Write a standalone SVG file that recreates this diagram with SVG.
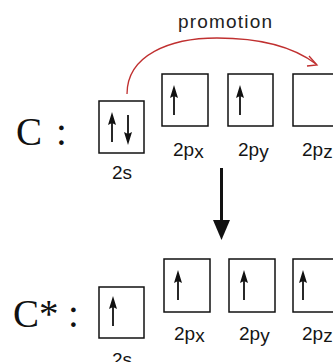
<svg xmlns="http://www.w3.org/2000/svg" xmlns:xlink="http://www.w3.org/1999/xlink" width="333" height="362" viewBox="0 0 333 362">
<style>
.box{fill:#fff;stroke:#111;stroke-width:1.5}
.lbl{font-family:"Liberation Sans","DejaVu Sans",sans-serif;font-size:19px;fill:#151515}
.big{font-family:"Liberation Serif","DejaVu Serif",serif;font-size:39px;fill:#111}
.spin{stroke:#111;stroke-width:1.8;fill:none}
</style>
<defs>
<g id="up"><line class="spin" x1="0" y1="8" x2="0" y2="30"/><path d="M0,0 L4,13 L0,11 L-4,13 Z" fill="#111"/></g>
<g id="down"><line class="spin" x1="0" y1="0" x2="0" y2="22"/><path d="M0,30 L4,17 L0,19 L-4,17 Z" fill="#111"/></g>
</defs>
<rect width="333" height="362" fill="#fff"/>

<text class="big" x="16" y="145">C<tspan x="56">:</tspan></text>
<text class="big" x="13" y="327">C*<tspan x="68">:</tspan></text>

<g id="C-2s">
<rect class="box" x="99" y="101" width="45" height="52"/>
<use xlink:href="#up" x="112" y="112"/>
<use xlink:href="#down" x="128" y="115"/>
<text class="lbl" x="122" y="179" text-anchor="middle">2s</text>
</g>
<g id="C-2px">
<rect class="box" x="162" y="74" width="46" height="52"/>
<use xlink:href="#up" x="174" y="85"/>
<text class="lbl" x="173" y="156">2p<tspan dy="2">x</tspan></text>
</g>
<g id="C-2py">
<rect class="box" x="228" y="74" width="45" height="52"/>
<use xlink:href="#up" x="240" y="85"/>
<text class="lbl" x="238" y="156">2p<tspan dy="2">y</tspan></text>
</g>
<g id="C-2pz">
<rect class="box" x="293" y="74" width="46" height="52"/>
<text class="lbl" x="302" y="156">2p<tspan dy="2">z</tspan></text>
</g>

<g id="Cs-2s">
<rect class="box" x="99" y="287" width="45" height="51"/>
<use xlink:href="#up" x="113" y="296"/>
<text class="lbl" x="122" y="366" text-anchor="middle">2s</text>
</g>
<g id="Cs-2px">
<rect class="box" x="164" y="259" width="46" height="53"/>
<use xlink:href="#up" x="178" y="270"/>
<text class="lbl" x="174" y="340">2p<tspan dy="2">x</tspan></text>
</g>
<g id="Cs-2py">
<rect class="box" x="229" y="259" width="46" height="53"/>
<use xlink:href="#up" x="244" y="270"/>
<text class="lbl" x="239" y="340">2p<tspan dy="2">y</tspan></text>
</g>
<g id="Cs-2pz">
<rect class="box" x="293" y="259" width="46" height="53"/>
<use xlink:href="#up" x="303" y="270"/>
<text class="lbl" x="302" y="340">2p<tspan dy="2">z</tspan></text>
</g>

<g id="connectors">
<path d="M127,94 C127,55 170,38 217,38 C262,38 295,48 316,64" fill="none" stroke="#c03030" stroke-width="1.3"/>
<path d="M309,56 L317,65 L307,66" fill="none" stroke="#c03030" stroke-width="1.3"/>
<text x="225" y="28" text-anchor="middle" font-family="Liberation Sans, DejaVu Sans, sans-serif" font-size="19" fill="#222" textLength="94">promotion</text>
<line x1="221.5" y1="168" x2="221.5" y2="226" stroke="#111" stroke-width="3"/>
<path d="M213,220 L230,220 L221.5,240 Z" fill="#111"/>
</g>
</svg>
